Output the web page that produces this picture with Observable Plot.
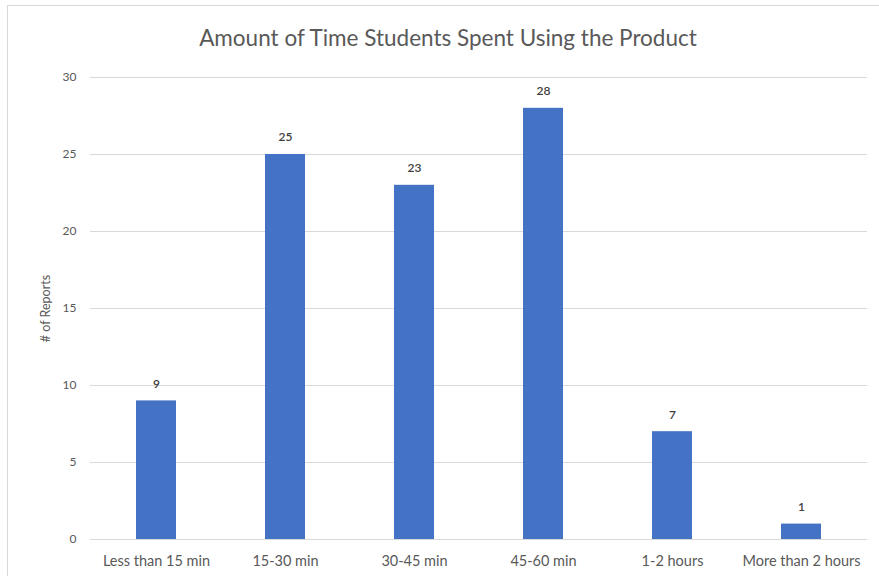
<!DOCTYPE html>
<html><head><meta charset="utf-8">
<script src="https://cdn.jsdelivr.net/npm/d3@7"></script>
<script src="https://cdn.jsdelivr.net/npm/@observablehq/plot@0.6"></script>
<style>
html,body{margin:0;padding:0;background:#fff;overflow:hidden;}
#wrap{position:relative;width:879px;height:576px;}
#border{position:absolute;left:7px;top:5px;width:900px;height:600px;border:1.5px solid #d9d9d9;box-sizing:border-box;}
#chart{position:absolute;left:0;top:0;}
</style></head>
<body><div id="wrap"><div id="border"></div><div id="chart"></div></div>
<script>
const categories = ["Less than 15 min","15-30 min","30-45 min","45-60 min","1-2 hours","More than 2 hours"];
const values = [9,25,23,28,7,1];
const yTicks = [0,5,10,15,20,25,30];
const title = "Amount of Time Students Spent Using the Product";
const yLabel = "# of Reports";

const data = categories.map((c,i)=>({category:c, value:values[i]}));
const font = "Lato, 'Open Sans', sans-serif";
const plot = Plot.plot({
  width: 879, height: 576,
  marginLeft: 90, marginRight: 12, marginTop: 77, marginBottom: 37,
  style: {fontFamily: font, background: "transparent", color: "#595959"},
  x: {domain: categories, paddingInner: 0.69, paddingOuter: 0.345, label: null},
  y: {domain: [0,30], label: null},
  marks: [
    Plot.ruleY(yTicks, {stroke: "#d9d9d9", strokeWidth: 1.2}),
    Plot.barY(data, {x: "category", y: "value", fill: "#4472C4"}),
    Plot.text(data, {x: "category", y: "value", text: d => String(d.value), dy: -17, fontSize: 12, fill: "#404040", fontWeight: 600}),
    Plot.axisY(yTicks, {tickSize: 0, tickPadding: 14, fontSize: 12, fill: "#595959", label: null}),
    Plot.axisX({tickSize: 0, tickPadding: 16, fontSize: 14.5, fill: "#595959", label: null}),
    Plot.text([yLabel], {frameAnchor: "left", textAnchor: "middle", dx: -45, rotate: -90, fontSize: 12.5, fill: "#595959"}),
    Plot.text([title], {frameAnchor: "top", dy: -39, dx: -31, lineAnchor: "middle", fontSize: 22.5, fill: "#595959"})
  ]
});
document.getElementById("chart").appendChild(plot);
</script></body></html>
